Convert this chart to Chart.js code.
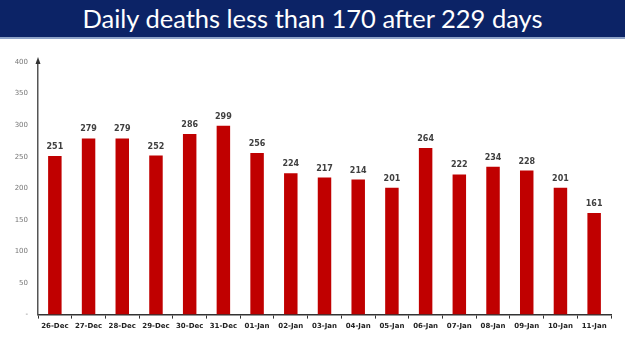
<!DOCTYPE html>
<html>
<head>
<meta charset="utf-8">
<script src="https://cdn.jsdelivr.net/npm/chart.js@4"></script>
<style>
  html, body { margin: 0; padding: 0; background: #fff; }
  #banner {
    width: 625px; height: 37px; background: #0c2366;
    border-bottom: 2px solid #8fa3c8;
    color: #fff; font-family: Lato, "Open Sans", sans-serif;
    font-size: 25.5px; line-height: 37px; text-align: center;
  }
  #wrap { position: relative; width: 625px; height: 312px; }
</style>
</head>
<body>
<div id="banner">Daily deaths less than 170 after 229 days</div>
<div id="wrap"><canvas id="deathsChart"></canvas></div>
<script>
(function() {
    'use strict';

    // data
    const days = ['26-Dec', '27-Dec', '28-Dec', '29-Dec', '30-Dec', '31-Dec', '01-Jan', '02-Jan', '03-Jan',
                  '04-Jan', '05-Jan', '06-Jan', '07-Jan', '08-Jan', '09-Jan', '10-Jan', '11-Jan'];
    const deaths = [251, 279, 279, 252, 286, 299, 256, 224, 217, 214, 201, 264, 222, 234, 228, 201, 161];
    const yTicks = [0, 50, 100, 150, 200, 250, 300, 350, 400];

    // value labels above bars + arrow on top of y axis
    const extras = {
        id: 'extras',
        afterDatasetsDraw(chart) {
            const ctx = chart.ctx;
            const meta = chart.getDatasetMeta(0);
            ctx.save();
            ctx.fillStyle = '#404040';
            ctx.font = 'bold 8px "DejaVu Sans", sans-serif';
            ctx.textAlign = 'center';
            ctx.textBaseline = 'bottom';
            meta.data.forEach((bar, i) => {
                ctx.fillText(deaths[i], bar.x, bar.y - 5);
            });
            // axis arrow
            const x = chart.scales.y.right;
            const top = chart.chartArea.top;
            ctx.fillStyle = '#333';
            ctx.beginPath();
            ctx.moveTo(x, top - 5);
            ctx.lineTo(x - 2.5, top + 2);
            ctx.lineTo(x + 2.5, top + 2);
            ctx.closePath();
            ctx.fill();
            ctx.restore();
        }
    };

    const el = document.getElementById('deathsChart');
    new Chart(el.getContext('2d'), {
        type: 'bar',
        data: {
            labels: days,
            datasets: [{
                data: deaths,
                backgroundColor: '#c00000',
                categoryPercentage: 1,
                barPercentage: 0.4
            }]
        },
        options: {
            responsive: true,
            maintainAspectRatio: false,
            animation: false,
            layout: { padding: { top: 23, right: 14, bottom: 18, left: 0 } },
            plugins: { legend: { display: false }, tooltip: { enabled: false } },
            scales: {
                x: {
                    grid: {
                        offset: true,
                        drawOnChartArea: false,
                        drawTicks: true,
                        tickLength: 4,
                        color: '#333'
                    },
                    border: { color: '#333', width: 1.5 },
                    ticks: {
                        color: '#222',
                        font: { family: '"DejaVu Sans", sans-serif', size: 7, weight: 'bold' },
                        maxRotation: 0,
                        autoSkip: false,
                        padding: 3
                    }
                },
                y: {
                    min: 0,
                    max: 400,
                    afterBuildTicks(axis) {
                        axis.ticks = yTicks.map(v => ({ value: v }));
                    },
                    afterFit(axis) { axis.width = 38; },
                    grid: { display: false },
                    border: { color: '#555', width: 1.5 },
                    ticks: {
                        color: '#777',
                        font: { family: '"DejaVu Sans", sans-serif', size: 7 },
                        padding: 2,
                        callback: v => (v === 0 ? '-' : v)
                    }
                }
            }
        },
        plugins: [extras]
    });
})();
</script>
</body>
</html>
